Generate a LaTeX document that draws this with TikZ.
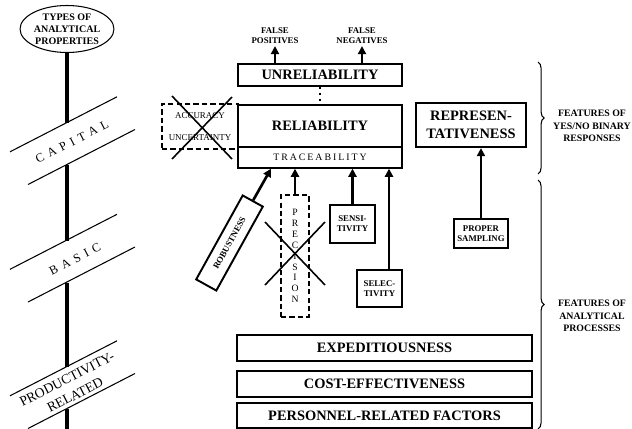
\documentclass[tikz,border=0pt]{standalone}
\usepackage{fontspec}
\setmainfont{Liberation Serif}
\newfontfamily\bandfont[LetterSpace=40]{Liberation Serif}
\newfontfamily\tracefont[LetterSpace=20]{Liberation Serif}
\usetikzlibrary{positioning,calc,arrows.meta,shapes.geometric,decorations.pathreplacing}

\begin{document}
\begin{tikzpicture}[x=0.02cm, y=-0.02cm,
    every node/.style={align=center, inner sep=0pt},
    box/.style={rectangle, draw=black, line width=1.3pt},
    sbox/.style={rectangle, draw=black, line width=1.1pt},
    xbox/.style={rectangle, draw=black, line width=0.8pt, dash pattern=on 3pt off 1.8pt},
    big/.style={font=\bfseries\fontsize{8.2}{10.2}\selectfont},
    small/.style={font=\bfseries\fontsize{5}{5.7}\selectfont},
    note/.style={font=\bfseries\fontsize{5.6}{7.1}\selectfont},
    plain/.style={font=\fontsize{5.1}{6.2}\selectfont},
    band/.style={font=\bandfont\fontsize{7}{8}\selectfont, rotate=27.2},
    arr/.style={-{Triangle[width=4.6pt,length=4.6pt]}, line width=1.5pt},
    thin/.style={line width=0.6pt},
    spine/.style={line width=2pt}
]
\useasboundingbox (0,0) rectangle (632,429);

% left scale of property types
\node[ellipse, draw, thin, minimum width=14mm, minimum height=9.4mm,
      font=\bfseries\fontsize{5.7}{6.8}\selectfont] (types) at (67,29)
    {TYPES OF\\ANALYTICAL\\PROPERTIES};
\foreach \yc/\nm in {144/cap, 261.5/bas, 388/prod} {
    \draw[thin] (10,\yc+7.8) -- (117,\yc-47.2);
    \draw[thin] (28,\yc+40.5) -- (135,\yc-14.5);
    \coordinate (\nm-top) at (67,\yc-21);
    \coordinate (\nm-bot) at (67,\yc+21);
}
\coordinate (foot) at (67,429);
\draw[spine] (types.south) -- (cap-top) (cap-bot) -- (bas-top)
    (bas-bot) -- (prod-top) (prod-bot) -- (foot);
\node[band] (capital) at (72,142) {CAPITAL};
\node[band] (basic) at (75,259) {BASIC};
\node[rotate=27.2, font=\fontsize{7.8}{10.2}\selectfont] (prodrel) at (71,387)
    {PRODUCTIVITY-\\RELATED};

% capital properties
\node[box, big, minimum width=32.8mm, minimum height=4.4mm] (unrel) at (320,75) {UNRELIABILITY};
\node[box, big, minimum width=32.8mm, minimum height=8.4mm] (rel) at (320,126) {RELIABILITY};
\node[rectangle, draw, line width=0.8pt, minimum width=32.8mm, minimum height=4.2mm,
      font=\tracefont\fontsize{5.6}{6}\selectfont] (trace) at (320,157.5) {TRACEABILITY};
\node[box, big, minimum width=22mm, minimum height=8.8mm] (repr) at (471,125)
    {REPRESEN-\\TATIVENESS};
\node[small, inner sep=1pt] (fpos) at (275,36) {FALSE\\POSITIVES};
\node[small, inner sep=1pt] (fneg) at (362,36) {FALSE\\NEGATIVES};
\draw[arr] (unrel.north -| fpos.south) -- (fpos.south);
\draw[arr] (unrel.north -| fneg.south) -- (fneg.south);
\draw[line width=1.3pt, dotted] (unrel.south) -- (rel.north);

\node[xbox, minimum width=15.2mm, minimum height=9mm,
      font=\fontsize{5.1}{12.5}\selectfont] (accu) at (200,126.5) {ACCURACY\\UNCERTAINTY};
\draw[line width=0.9pt] ($(accu.center)+(-28,-30.5)$) -- ($(accu.center)+(32,32.5)$);
\draw[line width=0.9pt] ($(accu.center)+(32,-29.5)$) -- ($(accu.center)+(-28,32.5)$);

% basic properties
\node[sbox, small, rotate=61, minimum width=19.2mm, minimum height=4.6mm] (robust)
    at (229.5,243) {ROBUSTNESS};
\node[xbox, minimum width=5.6mm, minimum height=24.4mm,
      font=\fontsize{5.5}{6.2}\selectfont] (prec) at (295,256)
    {P\\R\\E\\C\\I\\S\\I\\O\\N};
\draw[line width=0.9pt] ($(prec.center)+(-30,-34)$) -- ($(prec.center)+(30,29)$);
\draw[line width=0.9pt] ($(prec.center)+(30,-34)$) -- ($(prec.center)+(-30,29)$);
\node[sbox, small, minimum width=9mm, minimum height=7.6mm] (sensi) at (352.5,224)
    {SENSI-\\TIVITY};
\node[sbox, small, minimum width=9mm, minimum height=7.4mm] (selec) at (379.5,288.5)
    {SELEC-\\TIVITY};
\node[sbox, small, minimum width=10.8mm, minimum height=5.8mm] (proper) at (481,233.5)
    {PROPER\\SAMPLING};
\coordinate (selin) at ([xshift=1.9mm]selec.north);
\draw[arr] (robust.east) -- ($(trace.south)+(-49,0)$);
\draw[arr] (prec.north) -- (prec.north |- trace.south);
\draw[arr] (sensi.north) -- (sensi.north |- trace.south);
\draw[arr] (selin) -- (selin |- trace.south);
\draw[arr] (proper.north) -- (proper.north |- repr.south);

% productivity-related properties
\node[box, big, minimum width=59mm, minimum height=5.2mm] (expe) at (384.5,348) {EXPEDITIOUSNESS};
\node[box, big, minimum width=59mm, minimum height=5.2mm] (cost) at (384.5,384) {COST-EFFECTIVENESS};
\node[box, big, minimum width=59mm, minimum height=5mm] (pers) at (384.5,415.5) {PERSONNEL-RELATED FACTORS};

% braces
\draw[thin, decorate, decoration={brace, amplitude=3.5pt}] (538,62) -- (538,174);
\draw[thin, decorate, decoration={brace, amplitude=3.5pt}] (538,180) -- (538,429);
\node[note] (yesno) at (592,126) {FEATURES OF\\YES/NO BINARY\\RESPONSES};
\node[note] (procs) at (592,316) {FEATURES OF\\ANALYTICAL\\PROCESSES};
\end{tikzpicture}
\end{document}
